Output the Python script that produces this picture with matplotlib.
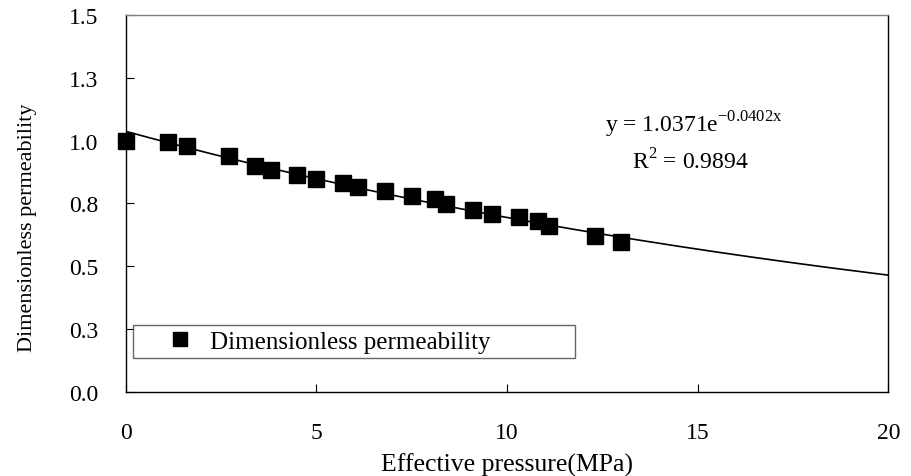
import numpy as np
import matplotlib
matplotlib.use("Agg")
import matplotlib.pyplot as plt

plt.rcParams['font.family'] = ['Liberation Serif', 'DejaVu Serif']
plt.rcParams['mathtext.fontset'] = 'custom'
plt.rcParams['mathtext.rm'] = 'Liberation Serif'

# measured points (effective pressure in MPa, dimensionless permeability)
pressure = [0.0, 1.1, 1.6, 2.7, 3.4, 3.8, 4.5, 5.0, 5.7, 6.1, 6.8,
            7.5, 8.1, 8.4, 9.1, 9.6, 10.3, 10.8, 11.1, 12.3, 13.0]
perm = [0.997, 0.993, 0.977, 0.937, 0.900, 0.884, 0.863, 0.847, 0.831, 0.816, 0.800,
        0.778, 0.766, 0.749, 0.725, 0.709, 0.696, 0.680, 0.659, 0.621, 0.595]

# exponential trendline  y = a*exp(b*x)
a = 1.0371
b = -0.0402
xfit = np.linspace(0, 20, 200)
yfit = a*np.exp(b*xfit)

xticks = [0, 5, 10, 15, 20]
yticks = [0, 0.25, 0.5, 0.75, 1.0, 1.25, 1.5]
ylabels = ['0.0', '0.3', '0.5', '0.8', '1.0', '1.3', '1.5']

fig = plt.figure(figsize=(9.12, 4.77), dpi=100)
ax = fig.add_axes([0.138, 0.177, 0.836, 0.789])

ax.plot(xfit, yfit, color='black', lw=1.2, zorder=2)
ax.plot(pressure, perm, ls='none', marker='s', markersize=11, color='black',
        label='Dimensionless permeability', zorder=3, clip_on=False)

ax.set_xlim(0, 20)
ax.set_ylim(0, 1.5)
ax.set_xticks(xticks)
ax.set_yticks(yticks)
ax.set_yticklabels(ylabels)
ax.tick_params(axis='x', direction='in', length=6, pad=22, labelsize=17)
ax.tick_params(axis='y', direction='in', length=6, pad=20, labelsize=17)
for s in ax.spines.values():
    s.set_linewidth(1.0)
    s.set_color('black')
ax.spines['top'].set_color('#808080')

ax.set_xlabel('Effective pressure(MPa)', fontsize=18.5, labelpad=7)
ax.set_ylabel('Dimensionless permeability', fontsize=16)
ax.yaxis.set_label_coords(-0.116, 0.437)

ax.text(0.745, 0.711, r'y = 1.0371e$^{\mathregular{-0.0402x}}$', transform=ax.transAxes,
        ha='center', va='center', fontsize=17)
ax.text(0.740, 0.612, r'R$^{\mathregular{2}}$ = 0.9894', transform=ax.transAxes,
        ha='center', va='center', fontsize=17)

leg = ax.legend(loc='lower left', bbox_to_anchor=(0.009, 0.09, 0.58, 0.096), mode='expand',
                fontsize=18, frameon=True, fancybox=False, borderpad=0.2,
                handlelength=3.36, handletextpad=-0.48, markerscale=0.9, borderaxespad=0)
leg.get_frame().set_edgecolor('#404040')
leg.get_frame().set_linewidth(1.0)

plt.savefig('out.png', dpi=100)
